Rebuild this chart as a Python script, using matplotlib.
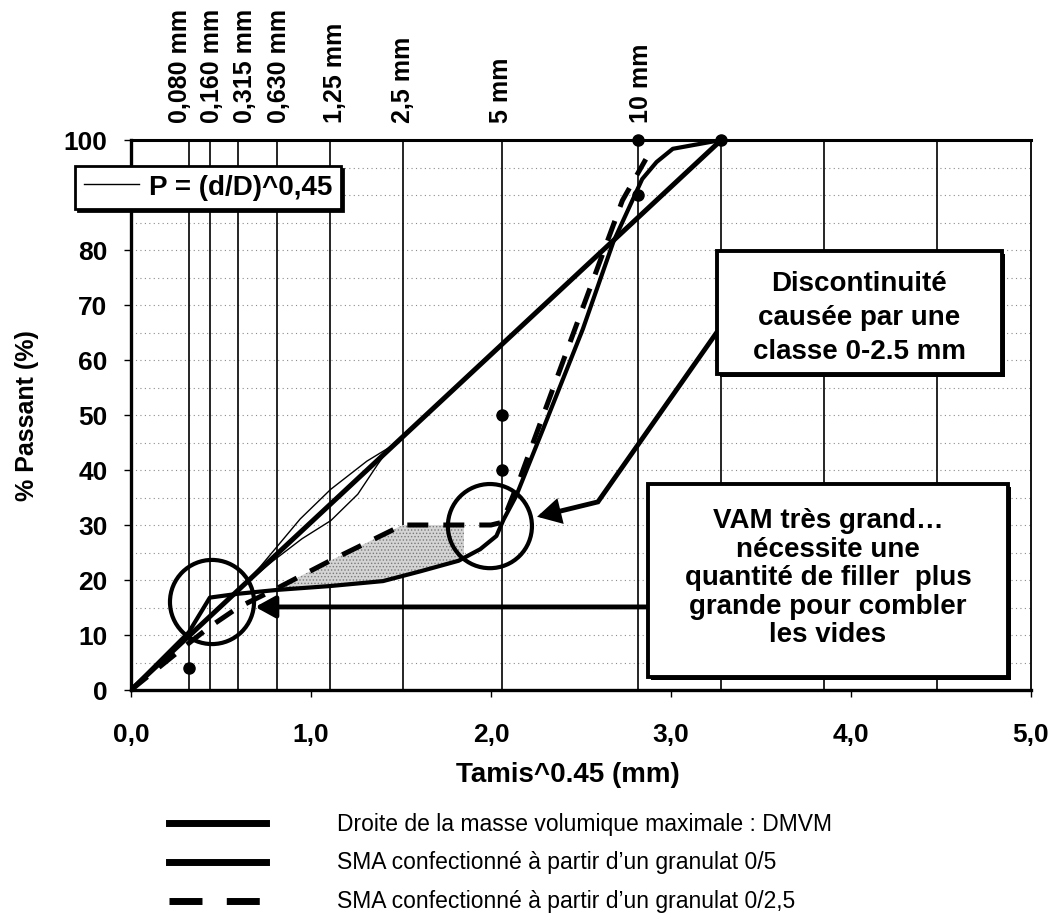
import numpy as np
import matplotlib.pyplot as plt
from matplotlib.patches import Rectangle, Ellipse, FancyArrowPatch
from matplotlib.lines import Line2D
from matplotlib.path import Path
import matplotlib.transforms as mtransforms

plt.rcParams['font.family'] = ['Liberation Sans', 'DejaVu Sans']
plt.rcParams['hatch.linewidth'] = 0.6

EXP = 0.45

# sieves (mm) drawn as vertical lines, labelled ones on top
sieves = [0.08, 0.16, 0.315, 0.63, 1.25, 2.5, 5, 10, 14, 20, 28]
sieve_labels = ['0,080 mm', '0,160 mm', '0,315 mm', '0,630 mm', '1,25 mm', '2,5 mm', '5 mm', '10 mm']
label_shift = [-9, 2, 7, 2, 5, 0, -1, 3]  # px, keeps the crowded labels apart

# DMVM : straight line from 0 to D = 14 mm
dmvm_d = [0, 14]
dmvm_p = [0, 100]

# P = (d/D)^0,45 thin band (x in Tamis^0.45)
fuller_up_x = [0.62, 0.72, 0.94, 1.11, 1.31, 1.44]
fuller_up_p = [18.9, 22.5, 31.1, 36.5, 41.6, 44.2]
fuller_lo_x = [0.62, 0.79, 0.95, 1.11, 1.26, 1.37, 1.44]
fuller_lo_p = [18.9, 23.5, 27.5, 30.8, 35.6, 41.0, 44.2]

# SMA from a 0/5 aggregate (solid)
sma5_x = [0, 0.321, 0.438, 0.595, 0.812, 1.106, 1.40, 1.61, 1.82, 1.94, 2.03,
          2.07, 2.14, 2.29, 2.51, 2.68, 2.84, 2.92, 3.01, 3.279]
sma5_p = [0, 10.5, 16.8, 17.5, 18.2, 18.9, 19.8, 21.6, 23.5, 25.6, 28.0,
          31.0, 35.3, 47.5, 65.6, 81.5, 92.9, 96.0, 98.4, 100]

# SMA from a 0/2,5 aggregate (dashed)
sma25_x = [0, 0.321, 0.438, 0.595, 0.812, 1.106, 1.51, 2.0, 2.063, 2.16, 2.44, 2.73, 2.86]
sma25_p = [0, 8.5, 11.5, 15, 18.5, 23.5, 30, 30, 30.5, 38.4, 63.3, 89, 96.5]

# black points
dots_d = [0.08, 5, 5, 10, 10, 14]
dots_p = [4, 40, 50, 90, 100, 100]

fig = plt.figure(figsize=(10.56, 9.2), dpi=100)
ax = fig.add_axes([131 / 1056, 229 / 920, 900 / 1056, 550 / 920])
ax.set_xlim(0, 5)
ax.set_ylim(0, 100)

# grid + sieve lines
ax.set_yticks(np.arange(0, 101, 10))
ax.set_yticks(np.arange(0, 101, 5), minor=True)
ax.yaxis.grid(True, which='both', linestyle=(0, (1, 3)), color='#8c8c8c', lw=0.8, zorder=0)
ax.set_axisbelow(True)
sx = np.array(sieves) ** EXP
for x in sx:
    ax.axvline(x, color='k', lw=1.2, zorder=1)

trans = mtransforms.blended_transform_factory(ax.transData, ax.transAxes)
for x, lab, dx in zip(sx, sieve_labels, label_shift):
    tr = mtransforms.offset_copy(trans, fig=fig, x=dx, y=0, units='dots')
    ax.text(x, 1.033, lab, transform=tr, rotation=90, ha='center', va='bottom',
            fontsize=18, fontweight='bold')

# shaded zone between 0/2,5 and 0/5
xs = np.linspace(0.78, 1.85, 80)
top = np.interp(xs, sma25_x, sma25_p)
bot = np.interp(xs, sma5_x, sma5_p)
ax.fill_between(xs, bot, top, where=top > bot, facecolor='#d4d4d4', edgecolor='#7a7a7a',
                hatch='.....', lw=0, zorder=2)

ax.plot(fuller_up_x, fuller_up_p, color='k', lw=1, zorder=3)
ax.plot(fuller_lo_x, fuller_lo_p, color='k', lw=1, zorder=3)
ax.plot(np.array(dmvm_d) ** EXP, dmvm_p, color='k', lw=3.6, zorder=4, solid_capstyle='butt')
ax.plot(sma5_x, sma5_p, color='k', lw=3.0, zorder=4)
ax.plot(sma25_x, sma25_p, color='k', lw=3.6, dashes=(4.2, 3.0), zorder=4)
ax.plot(np.array(dots_d) ** EXP, dots_p, 'o', color='k', ms=8, zorder=5, clip_on=False)

# circles
for c in [(0.45, 16.0), (1.994, 29.8)]:
    ax.add_patch(Ellipse(c, 0.467, 15.3, fill=False, ec='k', lw=3, zorder=6))

# arrows
astyle = '-|>,head_length=0.6,head_width=0.33'
ax.add_patch(FancyArrowPatch((2.872, 15.1), (0.69, 15.1), arrowstyle=astyle, mutation_scale=20,
                             lw=3.5, color='k', shrinkA=0, shrinkB=0, zorder=6))
ax.add_patch(FancyArrowPatch(path=Path([(3.256, 65.1), (2.594, 34.2), (2.256, 31.5)],
                                       [Path.MOVETO, Path.LINETO, Path.LINETO]),
                             arrowstyle=astyle, mutation_scale=20, lw=3.5, color='k',
                             joinstyle='miter', zorder=6))

# note boxes
def note(x0, x1, y0, y1, text, tx, ty, ls):
    w, h = x1 - x0, y1 - y0
    ax.add_patch(Rectangle((x0 + 0.017, y0 - 0.55), w, h, fc='k', ec='k', lw=0, zorder=7))
    ax.add_patch(Rectangle((x0, y0), w, h, fc='white', ec='k', lw=2.8, zorder=7.5))
    ax.text(tx, ty, text, ha='center', va='center', fontsize=20, fontweight='bold',
            linespacing=ls, zorder=8)

note(3.256, 4.839, 57.5, 79.8, 'Discontinuité\ncausée par une\nclasse 0-2.5 mm', 4.047, 67.8, 1.38)
note(2.872, 4.872, 2.4, 37.5,
     'VAM très grand…\nnécessite une\nquantité de filler  plus\ngrande pour combler\nles vides',
     3.872, 20.5, 1.13)

# axes look
for side, lw in [('left', 2.4), ('bottom', 2.4), ('top', 2.2), ('right', 1.3)]:
    ax.spines[side].set_linewidth(lw)
ax.set_xticks(np.arange(0, 6, 1))
ax.set_xticklabels([f'{v:.1f}'.replace('.', ',') for v in np.arange(0, 6, 1)])
ax.tick_params(axis='x', which='major', length=5, width=1, pad=18, labelsize=19)
ax.tick_params(axis='y', which='major', length=5, width=1, pad=12, labelsize=19)
ax.tick_params(which='minor', length=0)
for lab in ax.get_xticklabels() + ax.get_yticklabels():
    lab.set_fontweight('bold')

fig.text(27 / 1056, 1 - 416 / 920, '% Passant (%)', rotation=90, ha='center', va='center',
         fontsize=18, fontweight='bold')
fig.text(568 / 1056, 1 - 775 / 920, 'Tamis^0.45 (mm)', ha='center', va='center',
         fontsize=20, fontweight='bold')

# P = (d/D)^0,45 legend box
h = Line2D([], [], color='k', lw=1)
leg = ax.legend([h], ['P = (d/D)^0,45'], loc='upper left', bbox_to_anchor=(-0.062, 0.953),
                borderaxespad=0, fancybox=False, edgecolor='k', framealpha=1,
                shadow={'color': 'k', 'alpha': 1}, prop={'size': 20, 'weight': 'bold'},
                handlelength=2.0, handletextpad=0.35, borderpad=0.3)
leg.get_frame().set_linewidth(2)
leg.set_zorder(9)

# legend under the chart
rows = [('Droite de la masse volumique maximale : DMVM', '-'),
        ('SMA confectionné à partir d\u2019un granulat 0/5', '-'),
        ('SMA confectionné à partir d\u2019un granulat 0/2,5', '--')]
for i, (txt, st) in enumerate(rows):
    y = 1 - (824 + 39 * i) / 920
    ln = Line2D([169 / 1056, 266 / 1056], [y, y], transform=fig.transFigure, color='k', lw=5)
    if st == '--':
        ln.set_dashes((4.75, 3.5))
    fig.add_artist(ln)
    fig.text(337 / 1056, y, txt, ha='left', va='center', fontsize=16.5)

fig.savefig('out.png', dpi=100)
